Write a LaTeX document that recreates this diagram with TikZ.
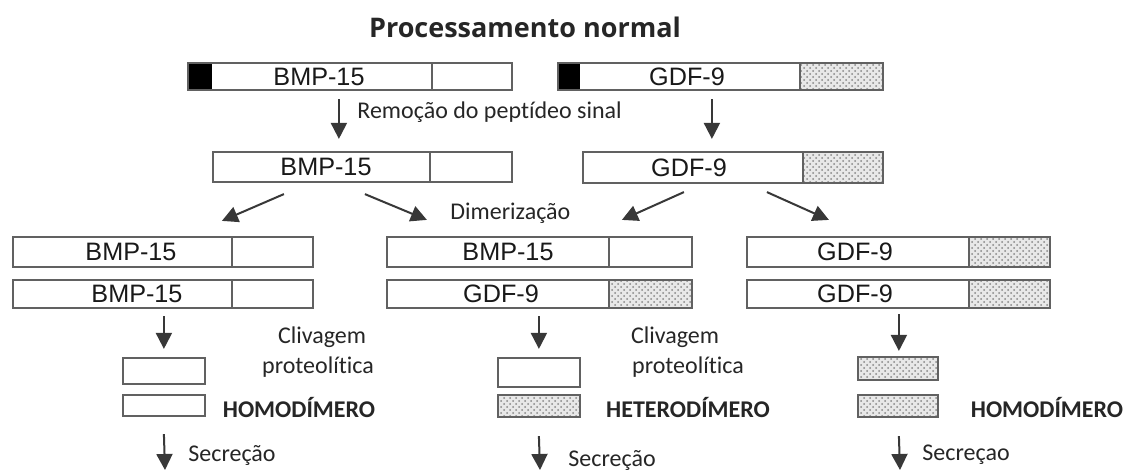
\documentclass[tikz,border=0pt]{standalone}
\usepackage{fontspec}
\setmainfont{Carlito}[Ligatures=NoCommon]
\newfontfamily\boxfont{Liberation Sans}
\newfontfamily\titlefont{Open Sans}
\usetikzlibrary{arrows.meta,fit,calc,patterns}
\newcommand\pbox[5]{\node[frame, fit={(#2,#3)(#4,#5)}] (#1) {};}
\newcommand\blk[4]{\fill[black] (#1,#2) rectangle (#3,#4);}
\newcommand\stp[4]{\fill[gray!18] (#1,#2) rectangle (#3,#4);\fill[pattern=crosshatch dots, pattern color=gray!95] (#1,#2) rectangle (#3,#4);}
\begin{document}
\begin{tikzpicture}[x=0.5pt,y=-0.5pt,
  frame/.style={draw=black!62, line width=1.1pt, inner sep=0pt},
  divline/.style={draw=black!62, line width=1.1pt},
  lbl/.style={font=\boxfont\fontsize{12.6}{14}\selectfont, text=black!90, inner sep=0pt},
  txt/.style={font=\fontsize{12}{14}\selectfont, text=black!85, inner sep=0pt},
  bold/.style={font=\fontsize{12}{14}\selectfont\bfseries, text=black!85, inner sep=0pt},
  arr/.style={draw=black!78, line width=1pt, -{Triangle[length=8pt,width=8pt]}}]
\useasboundingbox[fill=white] (0,0) rectangle (1133,470);

% title
\node[font=\titlefont\bfseries\fontsize{13.5}{16}\selectfont, text=black!85, inner sep=0pt] (title) at (525,27) {Processamento normal};

% fills first
\blk{188}{63}{212}{90}
\blk{558}{63}{580}{90}
\stp{800}{63}{883}{90}
\stp{803}{152}{883}{183}
\stp{609}{280}{692}{308}
\stp{969}{237}{1050}{267}
\stp{969}{280}{1050}{308}
\stp{498}{395}{580}{417}
\stp{858}{357}{938}{380}
\stp{858}{395}{938}{417}

% row 1
\pbox{b1}{188}{63}{512}{90}
\draw[divline] (432,63) -- (432,90);
\node[lbl] (b1t) at (319,77) {BMP-15};
\pbox{g1}{558}{63}{883}{90}
\draw[divline] (800,63) -- (800,90);
\node[lbl] (g1t) at (687,77) {GDF-9};

% row 2
\pbox{b2}{213}{152}{512}{182}
\draw[divline] (430,152) -- (430,182);
\node[lbl] (b2t) at (326,167) {BMP-15};
\pbox{g2}{583}{152}{883}{183}
\draw[divline] (803,152) -- (803,183);
\node[lbl] (g2t) at (689,168) {GDF-9};

% row 3
\pbox{b3a}{13}{237}{313}{267}
\draw[divline] (232,237) -- (232,267);
\node[lbl] (b3at) at (131,252) {BMP-15};
\pbox{b3b}{13}{280}{313}{308}
\draw[divline] (232,280) -- (232,308);
\node[lbl] (b3bt) at (137,294) {BMP-15};

\pbox{b3c}{387}{237}{692}{267}
\draw[divline] (609,237) -- (609,267);
\node[lbl] (b3ct) at (508,252) {BMP-15};
\pbox{g3a}{387}{280}{692}{308}
\draw[divline] (609,280) -- (609,308);
\node[lbl] (g3at) at (501,294) {GDF-9};

\pbox{g3b}{747}{237}{1050}{267}
\draw[divline] (969,237) -- (969,267);
\node[lbl] (g3bt) at (855,252) {GDF-9};
\pbox{g3c}{747}{280}{1050}{308}
\draw[divline] (969,280) -- (969,308);
\node[lbl] (g3ct) at (855,294) {GDF-9};

% small boxes
\pbox{s1}{123}{358}{205}{384}
\pbox{s2}{123}{395}{205}{416}
\pbox{s3}{498}{358}{580}{387}
\pbox{s4}{498}{395}{580}{417}
\pbox{s5}{858}{357}{938}{380}
\pbox{s6}{858}{395}{938}{417}

% labels
\node[txt, anchor=west] (rem) at (357,112) {Remoção do peptídeo sinal};
\node[txt, anchor=west] (dim) at (450,213) {Dimerização};
\node[txt] (cl1) at (322,337) {Clivagem};
\node[txt] (pr1) at (318,367) {proteolítica};
\node[bold] (h1) at (299,407) {HOMODÍMERO};
\node[txt, anchor=west] (se1) at (188,455) {Secreção};
\node[txt] (cl2) at (675,337) {Clivagem};
\node[txt] (pr2) at (688,367) {proteolítica};
\node[bold] (h2) at (688,407) {HETERODÍMERO};
\node[txt, anchor=west] (se2) at (568,460) {Secreção};
\node[bold] (h3) at (1047,407) {HOMODÍMERO};
\node[txt, anchor=west] (se3) at (922,455) {Secreçao};

% arrows
\draw[arr] ($(b1.south west)+(152,8)$) -- ($(b2.north west)+(127,-12)$);
\draw[arr] ($(g1.south west)+(155,8)$) -- ($(g2.north west)+(130,-12)$);
\draw[arr] ($(b2.south west)+(72,11)$) -- ($(b3a.north west)+(210,-15)$);
\draw[arr] ($(b2.south west)+(153,11)$) -- ($(b3c.north west)+(41,-16)$);
\draw[arr] ($(g2.south west)+(102,8)$) -- ($(b3c.north west)+(236,-16)$);
\draw[arr] ($(g2.south west)+(185,8)$) -- ($(g3b.north west)+(83,-16)$);
\draw[arr] ($(b3b.south west)+(152,7)$) -- ($(s1.north west)+(42,-8)$);
\draw[arr] ($(g3a.south west)+(153,7)$) -- ($(s3.north west)+(42,-8)$);
\draw[arr] ($(g3c.south west)+(153,5)$) -- ($(s5.north west)+(42,-5)$);
\coordinate (e1) at (165,470);
\coordinate (e2) at (540,470);
\coordinate (e3) at (900,470);
\draw[arr] ($(s2.south west)+(42,17)$) -- (e1);
\draw[arr] ($(s4.south west)+(42,18)$) -- (e2);
\draw[arr] ($(s6.south west)+(42,18)$) -- (e3);
\end{tikzpicture}
\end{document}
